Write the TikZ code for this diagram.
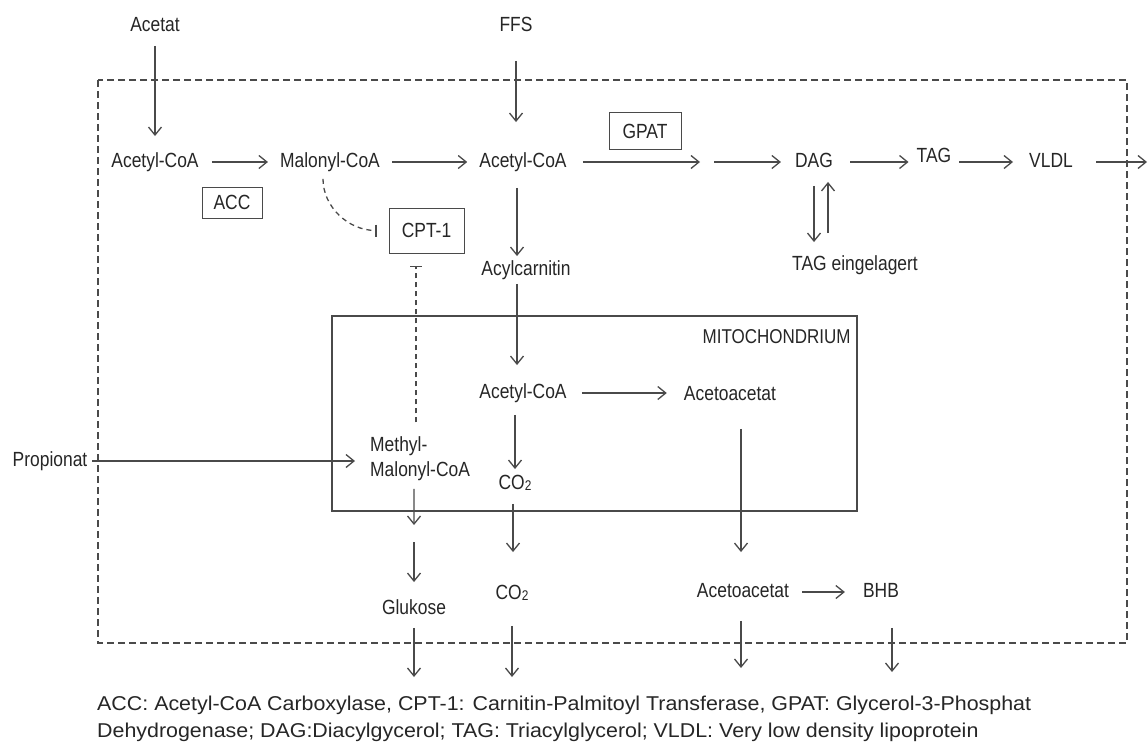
\documentclass[tikz,border=0pt]{standalone}
\usepackage{fontspec}
\setmainfont{Liberation Sans}[FakeStretch=0.85]
\newfontfamily\legfont{Liberation Sans}[FakeStretch=1.07]
\usetikzlibrary{arrows.meta}
\definecolor{txt}{HTML}{262626}
\definecolor{ln}{HTML}{4A4A4A}
\newcommand{\cosub}{CO\raisebox{-1.5pt}{\fontsize{14}{14}\selectfont 2}}
\begin{document}
\begin{tikzpicture}[x=1pt,y=-1pt,
 lbl/.style={inner sep=0pt, text=txt, font=\fontsize{20.5}{25}\selectfont, text height=15pt, text depth=4.5pt},
 mlbl/.style={inner sep=0pt, text=txt, font=\fontsize{20.5}{25}\selectfont, align=left},
 enz/.style={draw=ln, line width=1pt, inner sep=0pt, text=txt, font=\fontsize{20.5}{25}\selectfont},
 arr/.style={draw=ln, line width=1.3pt, -{Straight Barb[length=8pt,width=13pt,line width=1.3pt]}},
 inh/.style={draw=ln, line width=1.3pt, dash pattern=on 5pt off 4pt, -{Bar[width=12pt,line width=1.3pt]}},
 cellbox/.style={draw=ln, line width=1.4pt, dash pattern=on 7pt off 4pt},
 mitobox/.style={draw=ln, line width=1.6pt, inner sep=0pt},
 leg/.style={inner sep=0pt, text=txt, font=\legfont\fontsize{20}{27}\selectfont, anchor=base west},
]
\useasboundingbox (0,0) rectangle (1148,745);
\fill[white] (0,0) rectangle (1148,745);

% containers
\draw[cellbox] (98,80) rectangle (1127,643);
\node[mitobox, minimum width=525pt, minimum height=195pt] (mito) at (594.5,413.5) {};
\node[lbl, anchor=north east, font=\fontsize{20}{25}\selectfont] (mitol) at ([xshift=-7pt,yshift=-13pt]mito.north east) {MITOCHONDRIUM};

% nodes
\node[lbl] (ace) at (155,26) {Acetat};
\node[lbl] (ffs) at (516,26) {FFS};
\node[lbl] (a1) at (155,162) {Acetyl-CoA};
\node[lbl] (mal) at (330,162) {Malonyl-CoA};
\node[lbl] (a2) at (523,162) {Acetyl-CoA};
\coordinate (mid) at (707,162);
\node[lbl] (dag) at (814,162) {DAG};
\node[lbl] (tag) at (934,157) {TAG};
\node[lbl] (vldl) at (1051,162) {VLDL};
\coordinate (vout) at (1147,162);
\node[enz, minimum width=60pt, minimum height=31pt] (acc) at (232,202.5) {ACC};
\node[enz, minimum width=75pt, minimum height=45pt] (cpt) at (426.5,230.5) {CPT-1};
\node[enz, minimum width=72pt, minimum height=37pt] (gpat) at (645,131) {GPAT};
\node[lbl] (acyl) at (526,270) {Acylcarnitin};
\node[lbl] (tage) at (855,265) {TAG eingelagert};
\node[lbl] (a3) at (523,393) {Acetyl-CoA};
\node[lbl] (aa1) at (730,395) {Acetoacetat};
\node[lbl] (co2a) at (515,484) {\cosub};
\node[mlbl, anchor=west] (mm) at (370,459) {Methyl-\\Malonyl-CoA};
\node[lbl] (prop) at (50,461) {Propionat};
\coordinate (mmc) at (414,533);
\node[lbl] (glu) at (414,609) {Glukose};
\node[lbl] (co2b) at (512,594) {\cosub};
\node[lbl] (aa2) at (743,592) {Acetoacetat};
\node[lbl] (bhb) at (881,592) {BHB};
\coordinate (gout) at (414,677);
\coordinate (cout) at (512,677);
\coordinate (aout) at (741,668);
\coordinate (bout) at (892,672);

% top row
\draw[arr, shorten <=10pt, shorten >=16pt] (ace) -- (a1);
\draw[arr, shorten <=25pt, shorten >=30pt] (ffs.south) -- (ffs.south |- a2.north);
\draw[arr, shorten <=13pt, shorten >=12pt] (a1.east) -- (mal.west);
\draw[arr, shorten <=12pt, shorten >=12pt] (mal.east) -- (a2.west);
\draw[arr, shorten <=16pt, shorten >=7pt] (a2.east) -- (mid);
\draw[arr, shorten <=7pt, shorten >=14pt] (mid) -- (dag.west);
\draw[arr, shorten <=17pt, shorten >=8pt] (dag.east) -- (dag.east -| tag.west);
\draw[arr, shorten <=8pt, shorten >=16pt] (tag.east |- vldl.west) -- (vldl.west);
\draw[arr, shorten <=23pt] (vldl.east) -- (vout);
\draw[arr, shorten <=14pt, shorten >=13pt] (dag.south) -- (dag.south |- tage.north);
\draw[arr, shorten <=22pt, shorten >=10pt] ([xshift=14pt]dag.south |- tage.north) -- ([xshift=14pt]dag.south);

% inhibition
\draw[inh, shorten <=7pt, shorten >=12pt] ([xshift=-7pt]mal.south) .. controls +(0,35) and +(-40,0) .. (cpt.west);
\draw[inh, shorten <=14.5pt, shorten >=12pt] ([xshift=-4pt]mm.north) -- ([xshift=-4pt]mm.north |- cpt.south);

% middle column
\draw[arr, shorten <=16pt, shorten >=4pt] ([xshift=-6pt]a2.south) -- ([xshift=-6pt]a2.south |- acyl.north);
\draw[arr, shorten <=4pt, shorten >=18pt] ([xshift=-9pt]acyl.south) -- ([xshift=-9pt]acyl.south |- a3.north);
\draw[arr, shorten <=12pt, shorten >=5pt] ([xshift=-8pt]a3.south) -- ([xshift=-8pt]a3.south |- co2a.north);
\draw[arr, shorten <=10pt, shorten >=32pt] ([xshift=-2pt]co2a.south) -- ([xshift=-2pt]co2a.south |- co2b.north);
\draw[arr, shorten <=15pt, shorten >=17pt] (a3.east) -- (a3.east -| aa1.west);
\draw[arr, shorten <=24pt, shorten >=30pt] ([xshift=11pt]aa1.south) -- ([xshift=11pt]aa1.south |- aa2.north);
\draw[arr, shorten <=13pt, shorten >=18pt] (aa2.east) -- (bhb.west);

% propionate path
\draw[arr, shorten <=5pt, shorten >=15pt] (prop.east) -- (prop.east -| mm.west);
\draw[arr, shorten <=7.5pt, shorten >=8pt] ([xshift=-6pt]mm.south) -- (mmc);
\draw[arr, shorten <=9pt, shorten >=17pt] (mmc) -- (glu.north);

% exits
\draw[arr, shorten <=9pt] (glu.south) -- (gout);
\draw[arr, shorten <=22pt] (co2b.south) -- (cout);
\draw[arr, shorten <=19pt] (aa2.south -| aout) -- (aout);
\draw[arr, shorten <=26pt] (bhb.south -| bout) -- (bout);

% legend
\node[leg] (leg1) at (97,710) {ACC: Acetyl-CoA Carboxylase, CPT-1: Carnitin-Palmitoyl Transferase, GPAT: Glycerol-3-Phosphat};
\node[leg] (leg2) at (97,737) {Dehydrogenase; DAG:Diacylgycerol; TAG: Triacylglycerol; VLDL: Very low density lipoprotein};
\end{tikzpicture}
\end{document}
